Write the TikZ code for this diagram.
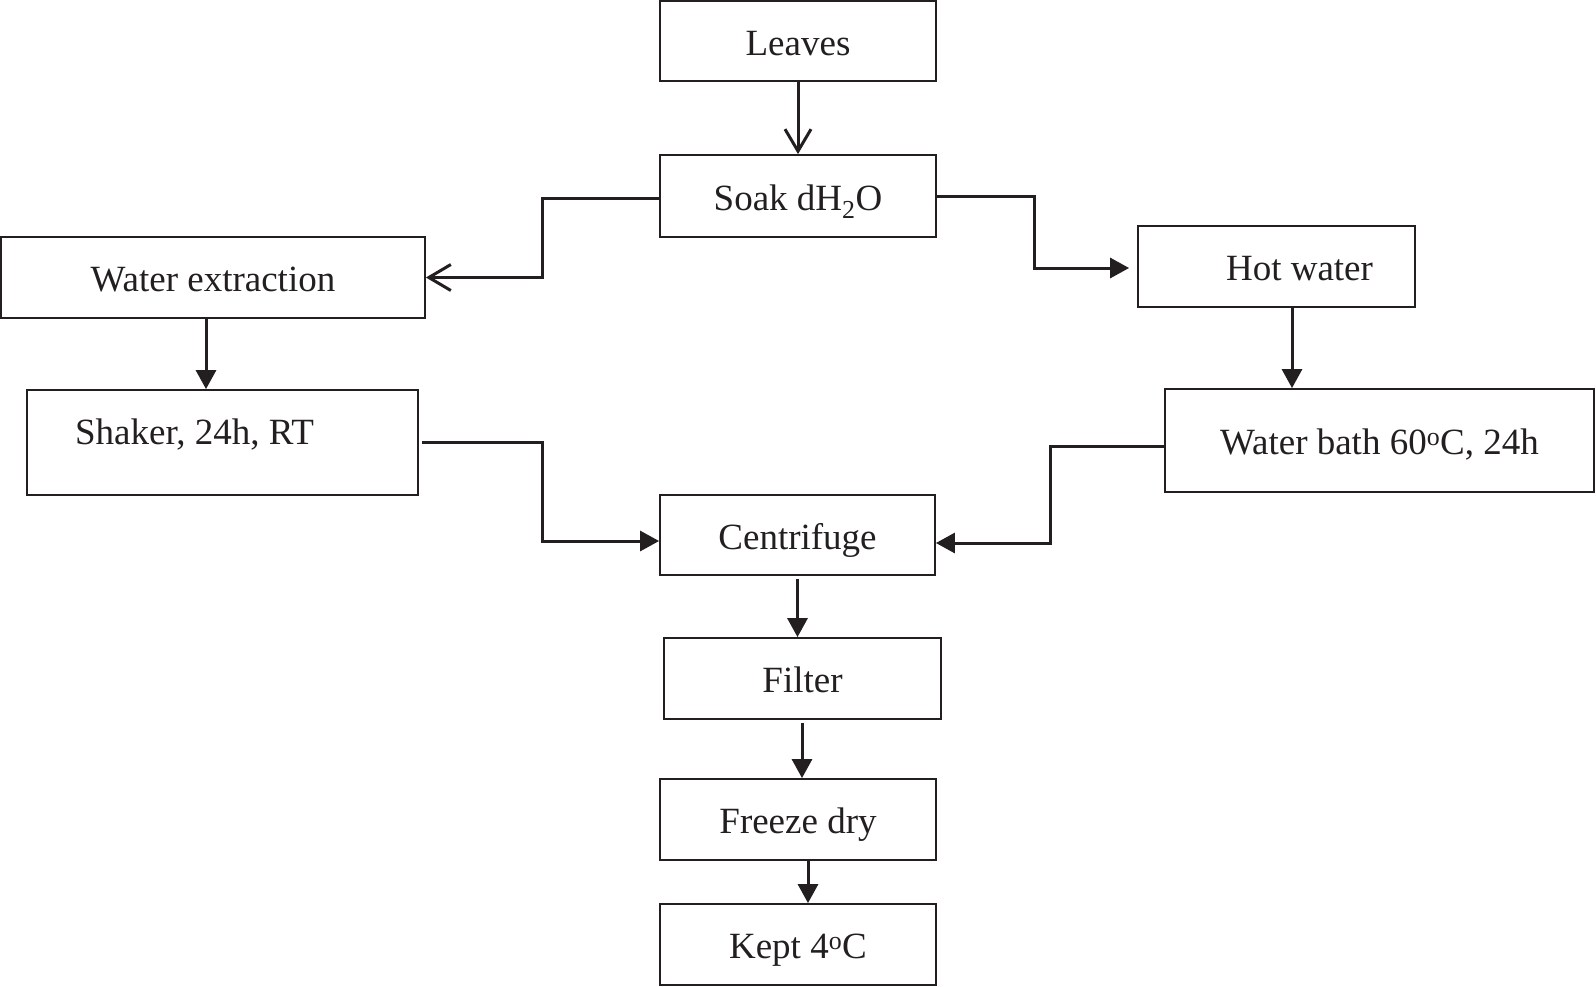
\documentclass[tikz,border=0pt]{standalone}
\usepackage{fontspec}
\setmainfont{Liberation Serif}
\usetikzlibrary{arrows.meta}
\definecolor{ink}{HTML}{231F20}
\begin{document}
\begin{tikzpicture}[x=1pt,y=-1pt,
  box/.style={draw=ink,line width=1.8pt,rectangle,inner sep=0pt,text=ink,text height=28pt,text depth=0pt,font=\fontsize{37}{40}\selectfont},
  link/.style={draw=ink,line width=3pt},
  opentip/.style={-{Straight Barb[length=22pt,width=26pt,line width=3pt]}},
  filltip/.style={-{Triangle[length=19pt,width=20pt]}}]
\useasboundingbox (0,0) rectangle (1596,986);
\node[box,minimum width=276pt,minimum height=80pt] (leaves) at (798,41) {Leaves};
\node[box,minimum width=276pt,minimum height=82pt] (soak) at (798,196) {Soak dH\textsubscript{2}O};
\node[box,minimum width=424pt,minimum height=81pt] (wext) at (213,277.5) {Water extraction};
\node[box,minimum width=277pt,minimum height=81pt] (hot) at (1276.5,266.5) {\hspace*{46pt}Hot water};
\node[box,minimum width=391pt,minimum height=105pt] (shaker) at (222.5,442.5) {\raisebox{12pt}{Shaker, 24h, RT}\hspace*{56pt}};
\node[box,minimum width=429pt,minimum height=103pt] (bath) at (1379.5,440.5) {Water bath 60\textsuperscript{o}C, 24h};
\node[box,minimum width=275pt,minimum height=80pt] (cent) at (797.5,535) {Centrifuge};
\node[box,minimum width=277pt,minimum height=81pt] (filter) at (802.5,678.5) {Filter};
\node[box,minimum width=276pt,minimum height=81pt] (freeze) at (798,819.5) {Freeze dry};
\node[box,minimum width=276pt,minimum height=81pt] (kept) at (798,944.5) {Kept 4\textsuperscript{o}C};

\draw[link,opentip] (leaves.south) -- (soak.north);
\draw[link,opentip] ([yshift=-2pt]soak.west) -- ++(-117,0) |- (wext.east);
\draw[link,filltip,shorten >=8pt] (soak.east) -- ++(98,0) |- ([yshift=-1.5pt]hot.west);
\draw[link,filltip] ([xshift=-7pt]wext.south) -- ([xshift=-7pt]wext.south |- shaker.north);
\draw[link,filltip] ([xshift=15.5pt]hot.south) -- ([xshift=15.5pt]hot.south |- bath.north);
\draw[link,filltip,shorten <=3pt] (shaker.east) -- ++(124,0) |- ([yshift=-6pt]cent.west);
\draw[link,filltip] ([yshift=-5.5pt]bath.west) -- ++(-114,0) |- ([yshift=-8pt]cent.east);
\draw[link,filltip,shorten <=3pt] (cent.south) -- (cent.south |- filter.north);
\draw[link,filltip,shorten <=3pt] ([xshift=-0.5pt]filter.south) -- ([xshift=-0.5pt]filter.south |- freeze.north);
\draw[link,filltip] ([xshift=10pt]freeze.south) -- ([xshift=10pt]freeze.south |- kept.north);
\end{tikzpicture}
\end{document}
